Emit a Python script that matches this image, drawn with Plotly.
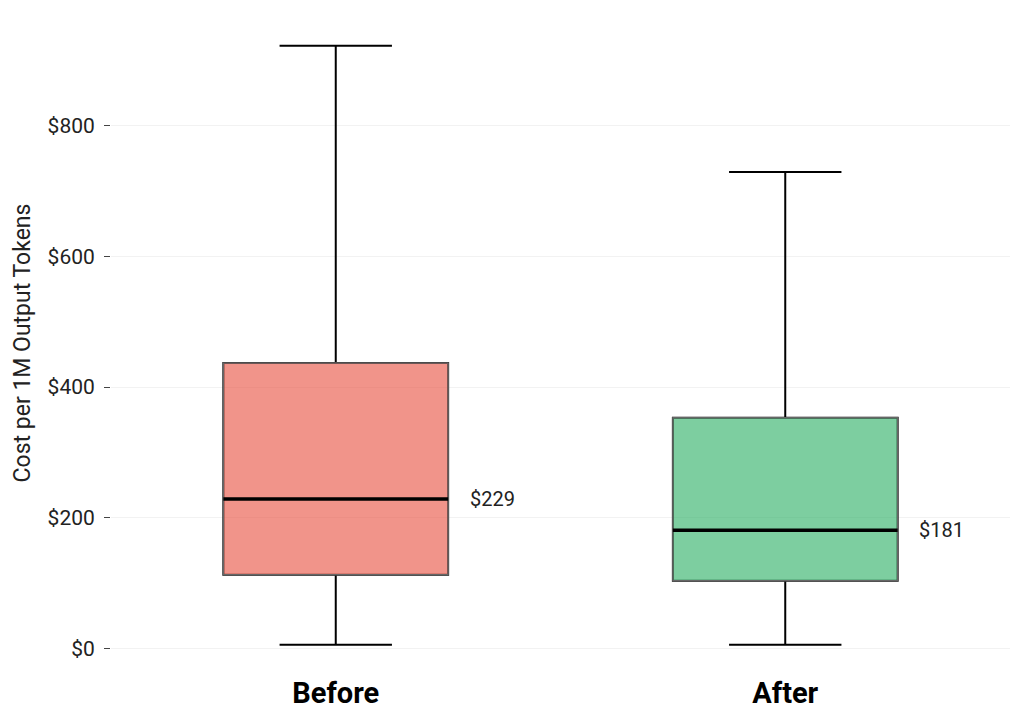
import plotly.graph_objects as go

# box stats ($ per 1M output tokens)
groups = ["Before", "After"]
q1 = [113, 104]
median = [229, 181]
q3 = [437, 353]
lower_whisker = [6, 6]
upper_whisker = [922, 729]
fill_colors = ["rgba(231,76,60,0.6)", "rgba(39,174,96,0.6)"]

y_tickvals = [0, 200, 400, 600, 800]
y_ticktext = ["$0", "$200", "$400", "$600", "$800"]

fig = go.Figure()

for i, g in enumerate(groups):
    # whiskers (black), box body drawn over it
    fig.add_trace(
        go.Box(
            x=[g],
            q1=[q1[i]],
            median=[median[i]],
            q3=[q3[i]],
            lowerfence=[lower_whisker[i]],
            upperfence=[upper_whisker[i]],
            width=0.5,
            whiskerwidth=0.5,
            line=dict(color="black", width=2),
            fillcolor="rgba(0,0,0,0)",
            showlegend=False,
            hoverinfo="skip",
        )
    )
    # filled box with grey outline
    fig.add_trace(
        go.Box(
            x=[g],
            q1=[q1[i]],
            median=[median[i]],
            q3=[q3[i]],
            lowerfence=[q1[i]],
            upperfence=[q3[i]],
            width=0.5,
            whiskerwidth=0.5,
            line=dict(color="#666666", width=1.5),
            fillcolor=fill_colors[i],
            showlegend=False,
        )
    )
    # thick median line
    fig.add_trace(
        go.Box(
            x=[g],
            q1=[median[i]],
            median=[median[i]],
            q3=[median[i]],
            lowerfence=[median[i]],
            upperfence=[median[i]],
            width=0.5,
            whiskerwidth=0,
            line=dict(color="black", width=3.5),
            fillcolor="rgba(0,0,0,0)",
            showlegend=False,
            hoverinfo="skip",
        )
    )
    fig.add_annotation(
        x=g,
        y=median[i],
        text=f"${median[i]}",
        showarrow=False,
        xanchor="left",
        xshift=132,
        font=dict(size=20, color="#222222"),
    )

fig.update_layout(
    width=1024,
    height=725,
    boxmode="overlay",
    plot_bgcolor="white",
    paper_bgcolor="white",
    font=dict(family="Roboto", color="#222222"),
    margin=dict(l=103, r=22, t=13, b=68, autoexpand=False),
    xaxis=dict(
        categoryorder="array",
        categoryarray=groups,
        range=[-0.5, 1.5],
        showgrid=False,
        zeroline=False,
        showline=False,
        tickfont=dict(size=29, color="black", family="Roboto", weight="bold"),
        ticklabelstandoff=8,
        automargin=False,
    ),
    yaxis=dict(
        range=[-25, 960],
        tickvals=y_tickvals,
        ticktext=y_ticktext,
        showgrid=True,
        gridcolor="#f2f2f2",
        gridwidth=1,
        zeroline=False,
        showline=False,
        ticks="outside",
        ticklen=6,
        tickcolor="#444444",
        ticklabelstandoff=5,
        tickfont=dict(size=21, color="#222222"),
        automargin=False,
        title=dict(text="Cost per 1M Output Tokens", font=dict(size=23), standoff=10),
    ),
)

fig.write_html("out.html")
